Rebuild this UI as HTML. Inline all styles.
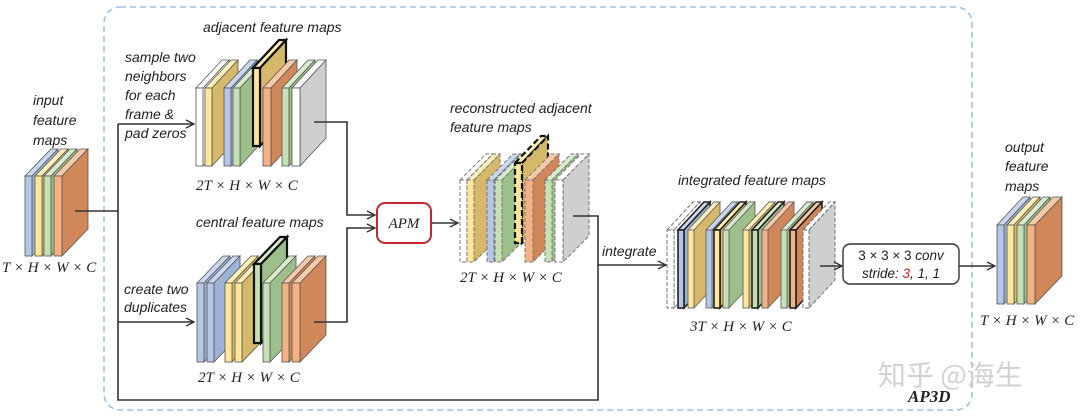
<!DOCTYPE html>
<html><head><meta charset="utf-8"><style>
html,body{margin:0;padding:0;background:#fff;width:1080px;height:418px;overflow:hidden}
svg{display:block}
.l{font-family:"Liberation Sans",sans-serif;font-style:italic;font-size:14px;fill:#222}
.m{font-family:"Liberation Serif",serif;font-style:italic;font-size:15px;fill:#222}
</style></head><body>
<svg width="1080" height="418" viewBox="0 0 1080 418" xmlns="http://www.w3.org/2000/svg">
<defs>
<marker id="a" markerWidth="10" markerHeight="10" refX="9" refY="5" orient="auto" markerUnits="userSpaceOnUse"><path d="M1,1 L9,5 L1,9" fill="none" stroke="#333" stroke-width="1.4"/></marker>
</defs>
<rect x="104" y="7" width="868" height="403" rx="16" fill="none" stroke="#9dc3e6" stroke-width="1.6" stroke-dasharray="6,4"/>

<g stroke="#555" stroke-width="0.8">
<polygon points="25,176 51,149 58,149 32,176" fill="#c9d8ef"/><polygon points="32,176 58,149 58,229 32,256" fill="#9db3d6"/><rect x="25" y="176" width="7" height="80" fill="#b4c7e7"/>
<polygon points="35,176 61,149 68,149 42,176" fill="#fff0b8"/><polygon points="42,176 68,149 68,229 42,256" fill="#d6b86a"/><rect x="35" y="176" width="7" height="80" fill="#ffe699"/>
<polygon points="44,176 70,149 77,149 51,176" fill="#d8ebcc"/><polygon points="51,176 77,149 77,229 51,256" fill="#9dbf8a"/><rect x="44" y="176" width="7" height="80" fill="#c5e0b4"/>
<polygon points="54,176 80,149 88,149 62,176" fill="#f8c9a6"/><polygon points="62,176 88,149 88,229 62,256" fill="#d0875a"/><rect x="54" y="176" width="8" height="80" fill="#f4b183"/>
</g>

<g stroke="#555" stroke-width="0.8">
<polygon points="196,88 222,60 229,60 203,88" fill="#fff"/><polygon points="203,88 229,60 229,138 203,166" fill="#fff"/><rect x="196" y="88" width="7" height="78" fill="#fff"/>
<polygon points="205,88 231,60 238,60 212,88" fill="#fff0b8"/><polygon points="212,88 238,60 238,138 212,166" fill="#d6b86a"/><rect x="205" y="88" width="7" height="78" fill="#ffe699"/>
<polygon points="224,88 250,60 257,60 231,88" fill="#c9d8ef"/><polygon points="231,88 257,60 257,138 231,166" fill="#9db3d6"/><rect x="224" y="88" width="7" height="78" fill="#b4c7e7"/>
<polygon points="233,88 259,60 266,60 240,88" fill="#d8ebcc"/><polygon points="240,88 266,60 266,138 240,166" fill="#9dbf8a"/><rect x="233" y="88" width="7" height="78" fill="#c5e0b4"/>
<g stroke="#111" stroke-width="2.2"><polygon points="253,68 279,40 286,40 260,68" fill="#fff0b8"/><polygon points="260,68 286,40 286,118 260,146" fill="#d6b86a"/><rect x="253" y="68" width="7" height="78" fill="#ffe699"/></g>
<polygon points="263,88 289,60 297,60 271,88" fill="#f8c9a6"/><polygon points="271,88 297,60 297,138 271,166" fill="#d0875a"/><rect x="263" y="88" width="8" height="78" fill="#f4b183"/>
<polygon points="282,88 308,60 315,60 289,88" fill="#d8ebcc"/><polygon points="289,88 315,60 315,138 289,166" fill="#9dbf8a"/><rect x="282" y="88" width="7" height="78" fill="#c5e0b4"/>
<polygon points="292,88 318,60 326,60 300,88" fill="#fff"/><polygon points="300,88 326,60 326,138 300,166" fill="#cfcfcf"/><rect x="292" y="88" width="8" height="78" fill="#fff"/>
</g>

<g stroke="#555" stroke-width="0.8">
<polygon points="197,283 223,256 230,256 204,283" fill="#c9d8ef"/><polygon points="204,283 230,256 230,335 204,362" fill="#9db3d6"/><rect x="197" y="283" width="7" height="79" fill="#b4c7e7"/>
<polygon points="207,283 233,256 240,256 214,283" fill="#c9d8ef"/><polygon points="214,283 240,256 240,335 214,362" fill="#9db3d6"/><rect x="207" y="283" width="7" height="79" fill="#b4c7e7"/>
<polygon points="225,283 251,256 258,256 232,283" fill="#fff0b8"/><polygon points="232,283 258,256 258,335 232,362" fill="#d6b86a"/><rect x="225" y="283" width="7" height="79" fill="#ffe699"/>
<polygon points="235,283 261,256 268,256 242,283" fill="#fff0b8"/><polygon points="242,283 268,256 268,335 242,362" fill="#d6b86a"/><rect x="235" y="283" width="7" height="79" fill="#ffe699"/>
<g stroke="#111" stroke-width="2.2"><polygon points="254,264 280,237 287,237 261,264" fill="#d8ebcc"/><polygon points="261,264 287,237 287,316 261,343" fill="#9dbf8a"/><rect x="254" y="264" width="7" height="79" fill="#c5e0b4"/></g>
<polygon points="263,283 289,256 296,256 270,283" fill="#d8ebcc"/><polygon points="270,283 296,256 296,335 270,362" fill="#9dbf8a"/><rect x="263" y="283" width="7" height="79" fill="#c5e0b4"/>
<polygon points="282,283 308,256 315,256 289,283" fill="#f8c9a6"/><polygon points="289,283 315,256 315,335 289,362" fill="#d0875a"/><rect x="282" y="283" width="7" height="79" fill="#f4b183"/>
<polygon points="292,283 318,256 326,256 300,283" fill="#f8c9a6"/><polygon points="300,283 326,256 326,335 300,362" fill="#d0875a"/><rect x="292" y="283" width="8" height="79" fill="#f4b183"/>
</g>

<g stroke="#777" stroke-width="1" stroke-dasharray="4,2">
<polygon points="460,180 486,154 493,154 467,180" fill="#fff"/><polygon points="467,180 493,154 493,236 467,262" fill="#fff"/><rect x="460" y="180" width="7" height="82" fill="#fff"/>
<polygon points="467,180 493,154 500,154 474,180" fill="#fff0b8"/><polygon points="474,180 500,154 500,236 474,262" fill="#d6b86a"/><rect x="467" y="180" width="7" height="82" fill="#ffe699"/>
<polygon points="487,180 513,154 520,154 494,180" fill="#c9d8ef"/><polygon points="494,180 520,154 520,236 494,262" fill="#9db3d6"/><rect x="487" y="180" width="7" height="82" fill="#b4c7e7"/>
<polygon points="495,180 521,154 528,154 502,180" fill="#d8ebcc"/><polygon points="502,180 528,154 528,236 502,262" fill="#9dbf8a"/><rect x="495" y="180" width="7" height="82" fill="#c5e0b4"/>
<g stroke="#111" stroke-width="2.2" stroke-dasharray="6,3"><polygon points="515,163 541,136 548,136 522,163" fill="#fff0b8"/><polygon points="522,163 548,136 548,216 522,243" fill="#d6b86a"/><rect x="515" y="163" width="7" height="80" fill="#ffe699"/></g>
<polygon points="525,180 551,154 559,154 533,180" fill="#f8c9a6"/><polygon points="533,180 559,154 559,236 533,262" fill="#d0875a"/><rect x="525" y="180" width="8" height="82" fill="#f4b183"/>
<polygon points="545,180 571,154 578,154 552,180" fill="#d8ebcc"/><polygon points="552,180 578,154 578,236 552,262" fill="#9dbf8a"/><rect x="545" y="180" width="7" height="82" fill="#c5e0b4"/>
<polygon points="555,180 581,154 589,154 563,180" fill="#fff"/><polygon points="563,180 589,154 589,236 563,262" fill="#cfcfcf"/><rect x="555" y="180" width="8" height="82" fill="#fff"/>
</g>

<g stroke="#666" stroke-width="0.9">
<g stroke-dasharray="4,2"><polygon points="667,230 693,202 700,202 674,230" fill="#fff"/><polygon points="674,230 700,202 700,280 674,308" fill="#fff"/><rect x="667" y="230" width="7" height="78" fill="#fff"/></g>
<g stroke="#222" stroke-width="1.6"><polygon points="678,230 704,202 710,202 684,230" fill="#c9d8ef"/><polygon points="684,230 710,202 710,280 684,308" fill="#9db3d6"/><rect x="678" y="230" width="6" height="78" fill="#b4c7e7"/></g>
<polygon points="688,230 714,202 720,202 694,230" fill="#fff0b8"/><polygon points="694,230 720,202 720,280 694,308" fill="#d6b86a"/><rect x="688" y="230" width="6" height="78" fill="#ffe699"/>
<polygon points="706,230 732,202 738,202 712,230" fill="#c9d8ef"/><polygon points="712,230 738,202 738,280 712,308" fill="#9db3d6"/><rect x="706" y="230" width="6" height="78" fill="#b4c7e7"/>
<g stroke="#222" stroke-width="1.6"><polygon points="714,230 740,202 746,202 720,230" fill="#fff0b8"/><polygon points="720,230 746,202 746,280 720,308" fill="#d6b86a"/><rect x="714" y="230" width="6" height="78" fill="#ffe699"/></g>
<polygon points="723,230 749,202 755,202 729,230" fill="#d8ebcc"/><polygon points="729,230 755,202 755,280 729,308" fill="#9dbf8a"/><rect x="723" y="230" width="6" height="78" fill="#c5e0b4"/>
<polygon points="743,230 769,202 775,202 749,230" fill="#fff0b8"/><polygon points="749,230 775,202 775,280 749,308" fill="#d6b86a"/><rect x="743" y="230" width="6" height="78" fill="#ffe699"/>
<g stroke="#222" stroke-width="1.6"><polygon points="752,230 778,202 784,202 758,230" fill="#d8ebcc"/><polygon points="758,230 784,202 784,280 758,308" fill="#9dbf8a"/><rect x="752" y="230" width="6" height="78" fill="#c5e0b4"/></g>
<polygon points="762,230 788,202 794,202 768,230" fill="#f8c9a6"/><polygon points="768,230 794,202 794,280 768,308" fill="#d0875a"/><rect x="762" y="230" width="6" height="78" fill="#f4b183"/>
<polygon points="781,230 807,202 813,202 787,230" fill="#d8ebcc"/><polygon points="787,230 813,202 813,280 787,308" fill="#9dbf8a"/><rect x="781" y="230" width="6" height="78" fill="#c5e0b4"/>
<g stroke="#222" stroke-width="1.6"><polygon points="790,230 816,202 822,202 796,230" fill="#f8c9a6"/><polygon points="796,230 822,202 822,280 796,308" fill="#d0875a"/><rect x="790" y="230" width="6" height="78" fill="#f4b183"/></g>
<g stroke-dasharray="4,2"><polygon points="803,230 829,202 835,202 809,230" fill="#fff"/><polygon points="809,230 835,202 835,280 809,308" fill="#cfcfcf"/><rect x="803" y="230" width="6" height="78" fill="#fff"/></g>
</g>

<g stroke="#555" stroke-width="0.8">
<polygon points="997,225 1023,197 1030,197 1004,225" fill="#c9d8ef"/><polygon points="1004,225 1030,197 1030,276 1004,304" fill="#9db3d6"/><rect x="997" y="225" width="7" height="79" fill="#b4c7e7"/>
<polygon points="1007,225 1033,197 1040,197 1014,225" fill="#fff0b8"/><polygon points="1014,225 1040,197 1040,276 1014,304" fill="#d6b86a"/><rect x="1007" y="225" width="7" height="79" fill="#ffe699"/>
<polygon points="1017,225 1043,197 1050,197 1024,225" fill="#d8ebcc"/><polygon points="1024,225 1050,197 1050,276 1024,304" fill="#9dbf8a"/><rect x="1017" y="225" width="7" height="79" fill="#c5e0b4"/>
<polygon points="1027,225 1053,197 1062,197 1035,225" fill="#f8c9a6"/><polygon points="1035,225 1062,197 1062,276 1035,304" fill="#d0875a"/><rect x="1027" y="225" width="8" height="79" fill="#f4b183"/>
</g>

<g stroke="#333" stroke-width="1.6" fill="none">
<polyline points="75,211 118,211"/>
<polyline points="118,124 118,400 598,400 598,216 573,216"/>
<line x1="118" y1="124" x2="194" y2="124" marker-end="url(#a)"/>
<line x1="118" y1="322" x2="194" y2="322" marker-end="url(#a)"/>
<polyline points="314,122 347,122 347,215 375,215" marker-end="url(#a)"/>
<polyline points="314,322 347,322 347,228 375,228" marker-end="url(#a)"/>
<line x1="431" y1="223" x2="458" y2="223" marker-end="url(#a)"/>
<line x1="598" y1="265" x2="666" y2="265" marker-end="url(#a)"/>
<line x1="820" y1="266" x2="842" y2="266" marker-end="url(#a)"/>
<line x1="958" y1="266" x2="995" y2="266" marker-end="url(#a)"/>
</g>
<rect x="377" y="203" width="54" height="40" rx="8" fill="#fff" stroke="#c0282d" stroke-width="2"/>
<text x="404" y="228" text-anchor="middle" class="m">APM</text>
<rect x="843" y="244" width="116" height="40" rx="7" fill="#fff" stroke="#333" stroke-width="1.4"/>
<text x="901" y="260" text-anchor="middle" font-family="Liberation Sans,sans-serif" font-size="13.5" fill="#222">3 × 3 × 3 <tspan font-style="italic">conv</tspan></text>
<text x="901" y="278" text-anchor="middle" class="l" style="font-size:13.5px">stride: <tspan fill="#d02020">3</tspan>, 1, 1</text>

<text class="l"><tspan x="33" y="105">input</tspan><tspan x="33" y="125">feature</tspan><tspan x="33" y="145">maps</tspan></text>
<text x="2" y="272" class="m">T × H × W × C</text>
<text x="203" y="32" class="l">adjacent feature maps</text>
<text class="l"><tspan x="125" y="62">sample two</tspan><tspan x="125" y="81">neighbors</tspan><tspan x="125" y="100">for each</tspan><tspan x="125" y="119">frame &amp;</tspan><tspan x="125" y="138">pad zeros</tspan></text>
<text x="196" y="190" class="m">2T × H × W × C</text>
<text x="196" y="227" class="l">central feature maps</text>
<text class="l"><tspan x="124" y="294">create two</tspan><tspan x="124" y="312">duplicates</tspan></text>
<text x="198" y="382" class="m">2T × H × W × C</text>
<text class="l"><tspan x="450" y="113">reconstructed adjacent</tspan><tspan x="450" y="132">feature maps</tspan></text>
<text x="460" y="282" class="m">2T × H × W × C</text>
<text x="602" y="256" class="l">integrate</text>
<text x="678" y="185" class="l">integrated feature maps</text>
<text x="690" y="331" class="m">3T × H × W × C</text>
<text class="l"><tspan x="1005" y="152">output</tspan><tspan x="1005" y="171">feature</tspan><tspan x="1005" y="191">maps</tspan></text>
<text x="980" y="325" class="m">T × H × W × C</text>
<text x="878" y="385" font-family="'Noto Sans CJK SC',sans-serif" font-size="28" fill="#c8c8c8" opacity="0.8">知乎 @海生</text>
<text x="908" y="402" font-family="Liberation Serif,serif" font-weight="bold" font-style="italic" font-size="17" fill="#222">AP3D</text>
</svg>
</body></html>
